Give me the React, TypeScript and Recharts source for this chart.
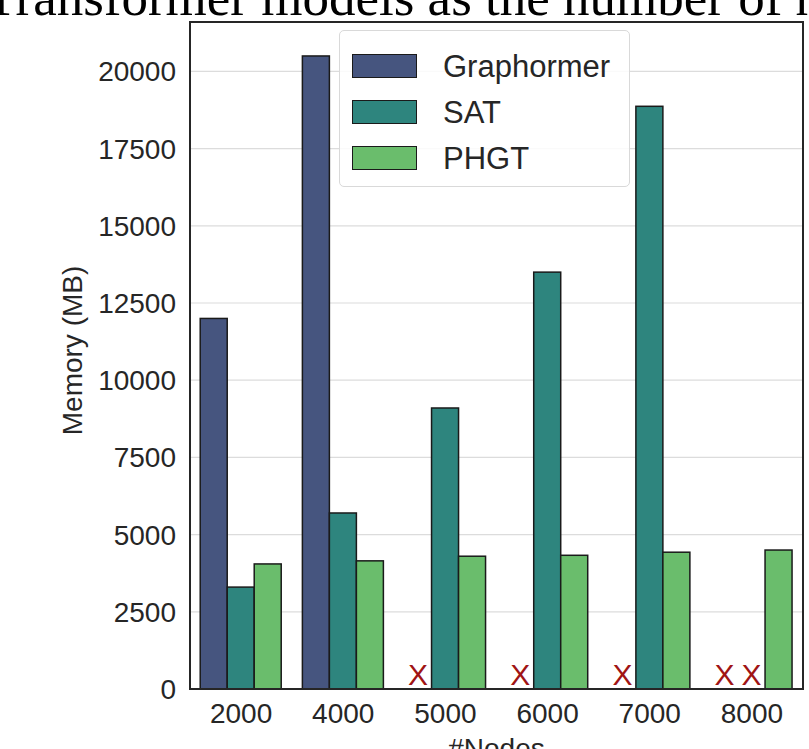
import React from 'react';
import { BarChart, Bar, XAxis, YAxis, CartesianGrid, Legend, ReferenceArea } from 'recharts';

const categories = ['2000', '4000', '5000', '6000', '7000', '8000'];
const graphormer: (number | null)[] = [12000, 20500, null, null, null, null];
const sat: (number | null)[] = [3300, 5700, 9100, 13500, 18870, null];
const phgt: (number | null)[] = [4050, 4150, 4300, 4330, 4430, 4500];
const yTicks = [0, 2500, 5000, 7500, 10000, 12500, 15000, 17500, 20000];
const yMax = 21600;
const seriesNames = ['Graphormer', 'SAT', 'PHGT'];
const seriesColors = ['#46557f', '#2e857e', '#6abd6c'];
const titleText = 'Transformer models as the number of nodes increases';
const xLabel = '#Nodes';
const yLabel = 'Memory (MB)';
const missingMark = 'X';

const seriesValues = [graphormer, sat, phgt];
const data = categories.map((c, i) => {
  const row: any = { nodes: c };
  seriesNames.forEach((n, k) => {
    row[n] = seriesValues[k][i];
  });
  return row;
});

const FONT = '"Liberation Sans", Arial, Helvetica, sans-serif';
const TEXT = '#262626';

const makeShape = (key: string, fill: string) => (props: any) => {
  const { x, y, width, height, payload } = props;
  if (payload[key] == null) {
    return (
      <text
        x={x + width / 2}
        y={y - 4}
        textAnchor="middle"
        fill="#a01414"
        fontSize={30}
        fontFamily={FONT}
      >
        {missingMark}
      </text>
    );
  }
  return (
    <rect x={x} y={y} width={width} height={height} fill={fill} stroke="#1a1a1a" strokeWidth={1.5} />
  );
};

const LegendBox = (props: any) => {
  const payload = [...(props.payload || [])].sort(
    (a: any, b: any) => seriesNames.indexOf(a.value) - seriesNames.indexOf(b.value)
  );
  return (
    <div
      style={{
        boxSizing: 'border-box',
        width: 291,
        height: 157,
        border: '1.5px solid #d9d9d9',
        borderRadius: 5,
        background: 'rgba(255,255,255,0.85)',
        padding: '12px 0 0 12px',
        fontFamily: FONT,
      }}
    >
      {payload.map((p: any, i: number) => (
        <div key={i} style={{ display: 'flex', alignItems: 'center', height: 46 }}>
          <div
            style={{
              boxSizing: 'border-box',
              width: 65,
              height: 24,
              background: p.color,
              border: '1.5px solid #1a1a1a',
              marginRight: 26,
            }}
          />
          <span style={{ fontSize: 31, color: TEXT, lineHeight: '31px' }}>{p.value}</span>
        </div>
      ))}
    </div>
  );
};

const YLabel = (props: any) => {
  const vb = props.viewBox || {};
  const cx = vb.x + 82;
  const cy = vb.y + vb.height / 2 - 5;
  return (
    <text
      x={cx}
      y={cy}
      transform={`rotate(-90, ${cx}, ${cy})`}
      textAnchor="middle"
      fill={TEXT}
      fontSize={28}
      fontFamily={FONT}
    >
      {yLabel}
    </text>
  );
};

const XLabel = (props: any) => {
  const vb = props.viewBox || {};
  return (
    <text
      x={vb.x + vb.width / 2}
      y={vb.y + 69}
      textAnchor="middle"
      fill={TEXT}
      fontSize={28}
      fontFamily={FONT}
    >
      {xLabel}
    </text>
  );
};

export default function App() {
  return (
    <div
      style={{
        position: 'absolute',
        left: 0,
        top: 0,
        width: 809,
        height: 749,
        overflow: 'hidden',
        background: '#ffffff',
      }}
    >
      <svg width={809} height={40} style={{ position: 'absolute', left: 0, top: 0 }}>
        <text x={-15} y={15} fontSize={53} fontFamily='"Liberation Serif", "Times New Roman", serif' fill="#000">
          {titleText}
        </text>
      </svg>
      <div style={{ position: 'absolute', left: 0, top: 0 }}>
        <BarChart
          width={809}
          height={749}
          data={data}
          margin={{ top: 22, right: 6, left: 0, bottom: 0 }}
          barCategoryGap="10%"
          barGap={0}
        >
          <CartesianGrid vertical={false} stroke="#dcdcdc" strokeWidth={1.2} />
          <XAxis
            dataKey="nodes"
            height={60}
            tickLine={false}
            tickSize={0}
            tickMargin={14}
            axisLine={{ stroke: TEXT, strokeWidth: 2 }}
            tick={{ fill: TEXT, fontSize: 28, fontFamily: FONT }}
            interval={0}
            label={<XLabel />}
          />
          <YAxis
            width={190}
            domain={[0, yMax]}
            ticks={yTicks}
            tickLine={false}
            tickSize={0}
            tickMargin={14}
            axisLine={{ stroke: TEXT, strokeWidth: 2 }}
            tick={{ fill: TEXT, fontSize: 28, fontFamily: FONT }}
            interval={0}
            label={<YLabel />}
          />
          <Legend
            layout="vertical"
            align="center"
            verticalAlign="middle"
            wrapperStyle={{ left: 339, top: 30, width: 291, height: 157 }}
            content={<LegendBox />}
          />
          {seriesNames.map((n, k) => (
            <Bar
              key={n}
              name={n}
              dataKey={(d: any) => (d[n] == null ? 0 : d[n])}
              fill={seriesColors[k]}
              isAnimationActive={false}
              shape={makeShape(n, seriesColors[k])}
            />
          ))}
          <ReferenceArea
            y1={0}
            y2={yMax}
            fill="none"
            fillOpacity={0}
            stroke={TEXT}
            strokeWidth={2}
            ifOverflow="visible"
          />
        </BarChart>
      </div>
    </div>
  );
}
